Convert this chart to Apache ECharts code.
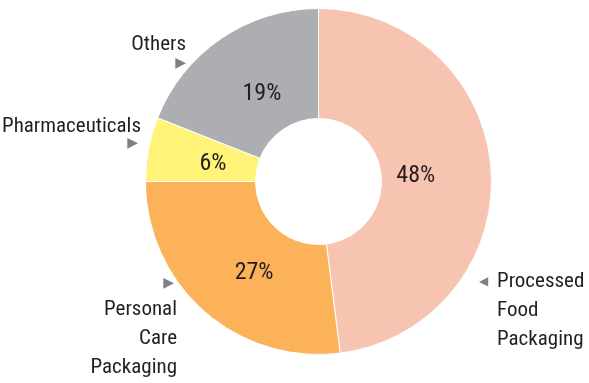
<!DOCTYPE html>
<html>
<head>
<meta charset="utf-8">
<script src="https://cdn.jsdelivr.net/npm/echarts@6/dist/echarts.min.js"></script>
<style>html,body{margin:0;padding:0;background:#fff;}#c{width:589px;height:383px;}</style>
</head>
<body>
<div id="c"></div>
<script>
var categories = ['Processed Food Packaging', 'Personal Care Packaging', 'Pharmaceuticals', 'Others'];
var shares = [48, 27, 6, 19];
var colors = ['#f7c4b1', '#fbb258', '#fff477', '#adaeb2'];

var FONT = "'Roboto Condensed', 'Liberation Sans Narrow', sans-serif";
var FS = 21;
var TXT = '#231f20';
var TRI = '#808084';

// label text templates (rich)
var nameLabels = [
  '{tri|◀}{t|Processed}\n{p|Food}\n{p|Packaging}',
  '{tri|▶}\n{t|Personal}\n{t|Care}\n{t|Packaging}',
  '{t|Pharmaceuticals}\n{tri|▶}',
  '{t|Others}\n{tri|▶}'
];
// label anchor placement [x, y, align]
var namePlace = [
  [479, 268, 'left'],
  [177, 271, 'right'],
  [141, 116, 'right'],
  [186, 33, 'right']
];
var pctOffsets = [[-12, 1], [8, 9], [2, 3], [5, 3]];

var chart = echarts.init(document.getElementById('c'), null, {renderer: 'canvas'});

var mainData = categories.map(function (c, i) {
  var rich;
  if (i === 0) {
    rich = {
      tri: {fontFamily: 'DejaVu Sans', fontSize: 12, color: TRI, width: 18, lineHeight: 28},
      t: {fontFamily: FONT, fontSize: FS, color: TXT, lineHeight: 28},
      p: {fontFamily: FONT, fontSize: FS, color: TXT, lineHeight: 29, padding: [0, 0, 0, 18]}
    };
  } else if (i === 1) {
    rich = {
      tri: {fontFamily: 'DejaVu Sans', fontSize: 14, color: TRI, lineHeight: 24, padding: [0, 3, 0, 0]},
      t: {fontFamily: FONT, fontSize: FS, color: TXT, lineHeight: 29}
    };
  } else if (i === 2) {
    rich = {
      t: {fontFamily: FONT, fontSize: FS, color: TXT, lineHeight: 22},
      tri: {fontFamily: 'DejaVu Sans', fontSize: 14, color: TRI, lineHeight: 10, padding: [0, 3, 0, 0]}
    };
  } else {
    rich = {
      t: {fontFamily: FONT, fontSize: FS, color: TXT, lineHeight: 24},
      tri: {fontFamily: 'DejaVu Sans', fontSize: 14, color: TRI, lineHeight: 12}
    };
  }
  return {
    name: c,
    value: shares[i],
    itemStyle: {color: colors[i]},
    label: {formatter: nameLabels[i], rich: rich}
  };
});

var pctData = categories.map(function (c, i) {
  return {name: c, value: shares[i], label: {offset: pctOffsets[i]}};
});

chart.setOption({
  animation: false,
  backgroundColor: '#fff',
  series: [
    {
      type: 'pie',
      center: [318.5, 181.5],
      radius: [63, 173],
      startAngle: 90,
      clockwise: true,
      avoidLabelOverlap: false,
      silent: true,
      itemStyle: {borderColor: '#fff', borderWidth: 1},
      label: {show: true, position: 'outside'},
      labelLine: {show: false},
      labelLayout: function (params) {
        var p = namePlace[params.dataIndex];
        return {x: p[0], y: p[1], align: p[2], verticalAlign: 'top'};
      },
      data: mainData
    },
    {
      type: 'pie',
      center: [318.5, 181.5],
      radius: [63, 150],
      startAngle: 90,
      clockwise: true,
      silent: true,
      avoidLabelOverlap: false,
      itemStyle: {color: 'rgba(0,0,0,0)', borderWidth: 0},
      label: {
        show: true,
        position: 'inside',
        formatter: '{c}%',
        fontFamily: FONT,
        fontSize: 24,
        color: TXT
      },
      labelLine: {show: false},
      data: pctData
    }
  ]
});
</script>
</body>
</html>
